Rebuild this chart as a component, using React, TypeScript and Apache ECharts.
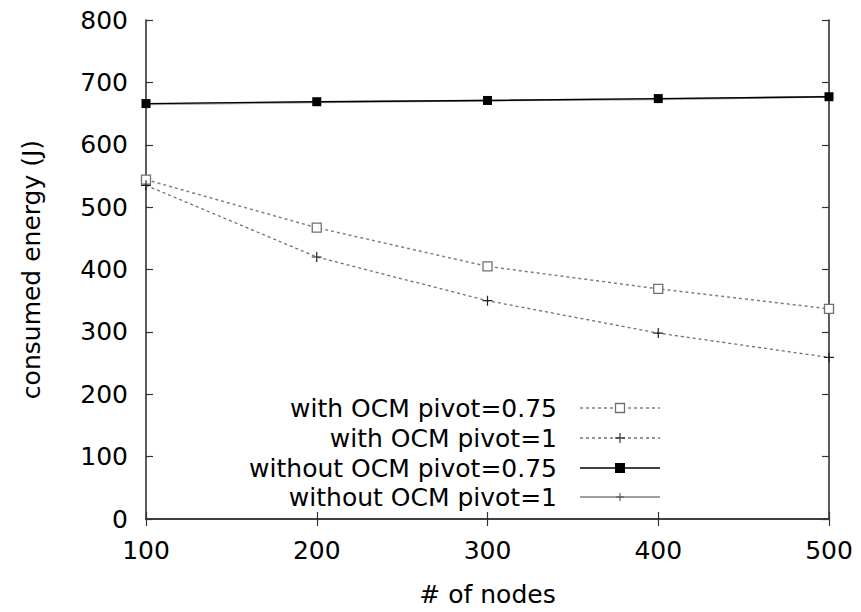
import React, { useEffect, useRef } from "react";
import * as echarts from "echarts";

const nodes = [100, 200, 300, 400, 500];
const withOcm075 = [544, 467, 405, 369, 337];
const withOcm1 = [535, 420, 350, 298, 259];
const withoutOcm075 = [666, 669, 671, 674, 677];
const withoutOcm1 = [665, 668, 671, 673, 677];
const seriesNames = [
  "with OCM pivot=0.75",
  "with OCM pivot=1",
  "without OCM pivot=0.75",
  "without OCM pivot=1",
];
const xAxisName = "# of nodes";
const yAxisName = "consumed energy (J)";

const FONT = "DejaVu Sans";
const PLUS = "path://M4.4,0H5.6V10H4.4ZM0,4.4H10V5.6H0Z";

const pairs = (ys: number[]) => nodes.map((x, i) => [x, ys[i]]);

export default function App() {
  const ref = useRef<HTMLDivElement>(null);
  useEffect(() => {
    if (!ref.current) return;
    const chart = echarts.init(ref.current, null, { renderer: "svg" });
    const axisLine = { show: true, lineStyle: { color: "#333", width: 1.6 } };
    const tick = { show: true, inside: true, length: 7, lineStyle: { color: "#333", width: 1.2 } };
    const label = { color: "#000", fontSize: 25, fontFamily: FONT };

    const rowY = [408, 438, 468, 497];
    const textX = 557;
    const lineX1 = 580;
    const lineX2 = 660;
    const markX = 620;
    const styles = [
      { stroke: "#808080", lineDash: [3, 3], lineWidth: 1.5 },
      { stroke: "#707070", lineDash: [3, 3], lineWidth: 1.3 },
      { stroke: "#000", lineDash: null as any, lineWidth: 1.5 },
      { stroke: "#a0a0a0", lineDash: null as any, lineWidth: 2.2 },
    ];
    const legendEls: any[] = [];
    seriesNames.forEach((name, i) => {
      legendEls.push({
        type: "text",
        x: textX,
        y: rowY[i],
        style: {
          text: name,
          fill: "#000",
          fontSize: 25,
          fontFamily: FONT,
          textAlign: "right",
          textVerticalAlign: "middle",
        },
      });
      legendEls.push({
        type: "line",
        shape: { x1: lineX1, y1: rowY[i], x2: lineX2, y2: rowY[i] },
        style: { stroke: styles[i].stroke, lineWidth: styles[i].lineWidth, lineDash: styles[i].lineDash || undefined },
      });
    });
    legendEls.push({
      type: "rect",
      shape: { x: markX - 4.5, y: rowY[0] - 4.5, width: 9, height: 9 },
      style: { fill: "#fff", stroke: "#707070", lineWidth: 1.3 },
    });
    const plus = (y: number, s: number, color: string, w: number) => [
      { type: "line", shape: { x1: markX - s, y1: y, x2: markX + s, y2: y }, style: { stroke: color, lineWidth: w } },
      { type: "line", shape: { x1: markX, y1: y - s, x2: markX, y2: y + s }, style: { stroke: color, lineWidth: w } },
    ];
    legendEls.push(...plus(rowY[1], 5, "#222", 1.1));
    legendEls.push({
      type: "rect",
      shape: { x: markX - 5, y: rowY[2] - 5, width: 10, height: 10 },
      style: { fill: "#000" },
    });
    legendEls.push(...plus(rowY[3], 4, "#555", 1.1));

    chart.setOption({
      animation: false,
      backgroundColor: "#fff",
      grid: { left: 146, right: 32, top: 20, bottom: 89, containLabel: false },
      xAxis: [
        {
          type: "value",
          position: "bottom",
          min: 100,
          max: 500,
          interval: 100,
          name: xAxisName,
          nameLocation: "middle",
          nameGap: 63,
          nameTextStyle: { color: "#000", fontSize: 25, fontFamily: FONT },
          axisLine,
          axisTick: tick,
          axisLabel: { ...label, margin: 19 },
          splitLine: { show: false },
        },
        {
          type: "value",
          position: "top",
          min: 100,
          max: 500,
          interval: 100,
          axisLine,
          axisTick: tick,
          axisLabel: { show: false },
          splitLine: { show: false },
        },
      ],
      yAxis: [
        {
          type: "value",
          position: "left",
          min: 0,
          max: 800,
          interval: 100,
          name: yAxisName,
          nameLocation: "middle",
          nameGap: 102,
          nameTextStyle: { color: "#000", fontSize: 25, fontFamily: FONT },
          axisLine,
          axisTick: tick,
          axisLabel: { ...label, margin: 18 },
          splitLine: { show: false },
        },
        {
          type: "value",
          position: "right",
          min: 0,
          max: 800,
          interval: 100,
          axisLine,
          axisTick: tick,
          axisLabel: { show: false },
          splitLine: { show: false },
        },
      ],
      series: [
        {
          name: seriesNames[3],
          type: "line",
          data: pairs(withoutOcm1),
          clip: false,
          symbol: PLUS,
          symbolSize: 8,
          lineStyle: { color: "#a0a0a0", width: 2 },
          itemStyle: { color: "#555" },
          z: 1,
        },
        {
          name: seriesNames[0],
          type: "line",
          data: pairs(withOcm075),
          clip: false,
          symbol: "rect",
          symbolSize: 9,
          lineStyle: { color: "#808080", width: 1.5, type: [3, 3] },
          itemStyle: { color: "#fff", borderColor: "#707070", borderWidth: 1.3 },
          z: 2,
        },
        {
          name: seriesNames[1],
          type: "line",
          data: pairs(withOcm1),
          clip: false,
          symbol: PLUS,
          symbolSize: 10,
          lineStyle: { color: "#707070", width: 1.3, type: [3, 3] },
          itemStyle: { color: "#222" },
          z: 2,
        },
        {
          name: seriesNames[2],
          type: "line",
          data: pairs(withoutOcm075),
          clip: false,
          symbol: "rect",
          symbolSize: 9,
          lineStyle: { color: "#000", width: 1.4 },
          itemStyle: { color: "#000" },
          z: 3,
        },
      ],
      graphic: legendEls,
    });
    return () => chart.dispose();
  }, []);
  return (
    <div
      ref={ref}
      style={{ position: "fixed", left: 0, top: 0, width: 861, height: 612, background: "#fff" }}
    />
  );
}
